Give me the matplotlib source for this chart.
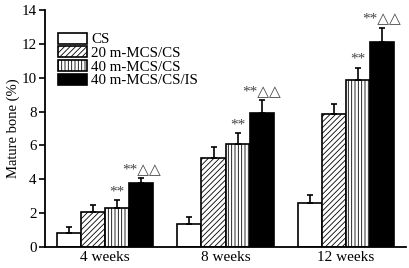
import matplotlib
matplotlib.use("Agg")
import matplotlib.pyplot as plt
import numpy as np

plt.rcParams['font.family'] = ['Liberation Serif', 'DejaVu Sans']
plt.rcParams['hatch.linewidth'] = 0.6
plt.rcParams['hatch.color'] = '#222222'

groups = ['4 weeks', '8 weeks', '12 weeks']
series = ['CS', '20 m-MCS/CS', '40 m-MCS/CS', '40 m-MCS/CS/IS']
values = {
    'CS': [0.85, 1.36, 2.58],
    '20 m-MCS/CS': [2.05, 5.24, 7.84],
    '40 m-MCS/CS': [2.32, 6.10, 9.84],
    '40 m-MCS/CS/IS': [3.80, 7.91, 12.13],
}
errors = {
    'CS': [0.35, 0.43, 0.49],
    '20 m-MCS/CS': [0.41, 0.65, 0.59],
    '40 m-MCS/CS': [0.44, 0.61, 0.75],
    '40 m-MCS/CS/IS': [0.29, 0.77, 0.82],
}
marks = {
    '40 m-MCS/CS': ['**', '**', '**'],
    '40 m-MCS/CS/IS': ['**\u25b3\u25b3', '**\u25b3\u25b3', '**\u25b3\u25b3'],
}
yticks = [0, 2, 4, 6, 8, 10, 12, 14]

styles = {
    'CS': dict(facecolor='white', hatch=None),
    '20 m-MCS/CS': dict(facecolor='white', hatch='//////'),
    '40 m-MCS/CS': dict(facecolor='white', hatch='|||||'),
    '40 m-MCS/CS/IS': dict(facecolor='black', hatch=None),
}

fig = plt.figure(figsize=(4.09, 2.68), dpi=100)
ax = fig.add_axes([0.110, 0.078, 0.883, 0.885])

x = np.arange(len(groups))
w = 0.2
for i, s in enumerate(series):
    pos = x + (i - 1.5) * w
    v = np.array(values[s])
    e = np.array(errors[s])
    ax.bar(pos, v, w, edgecolor='black', linewidth=1.2, label=s, **styles[s])
    ax.errorbar(pos, v, yerr=[np.zeros_like(e), e], fmt='none', ecolor='black',
                elinewidth=1.2, capsize=2.5, capthick=1.2)
    if s in marks:
        for p, vv, ee, m in zip(pos, v, e, marks[s]):
            ax.text(p, vv + ee + 0.12, m, ha='center', va='bottom', fontsize=11,
                    color='#444444')

ax.set_xlim(-0.5, 2.5)
ax.set_ylim(0, 14)
ax.set_yticks(yticks)
ax.set_xticks(x)
ax.set_xticklabels(groups, fontsize=11)
ax.tick_params(axis='x', length=0, pad=3)
ax.tick_params(axis='y', direction='out', length=4, width=1.2, labelsize=10.8, pad=2)
ax.set_ylabel('Mature bone (%)', fontsize=10.5, labelpad=1)
for sp in ['top', 'right']:
    ax.spines[sp].set_visible(False)
for sp in ['left', 'bottom']:
    ax.spines[sp].set_linewidth(1.3)

leg = ax.legend(loc='upper left', bbox_to_anchor=(0.02, 0.93), frameon=False,
                fontsize=10.8, handlelength=1.9, handleheight=0.75, handletextpad=0.3,
                labelspacing=0.0, borderaxespad=0)

fig.savefig('out.png', dpi=100)
